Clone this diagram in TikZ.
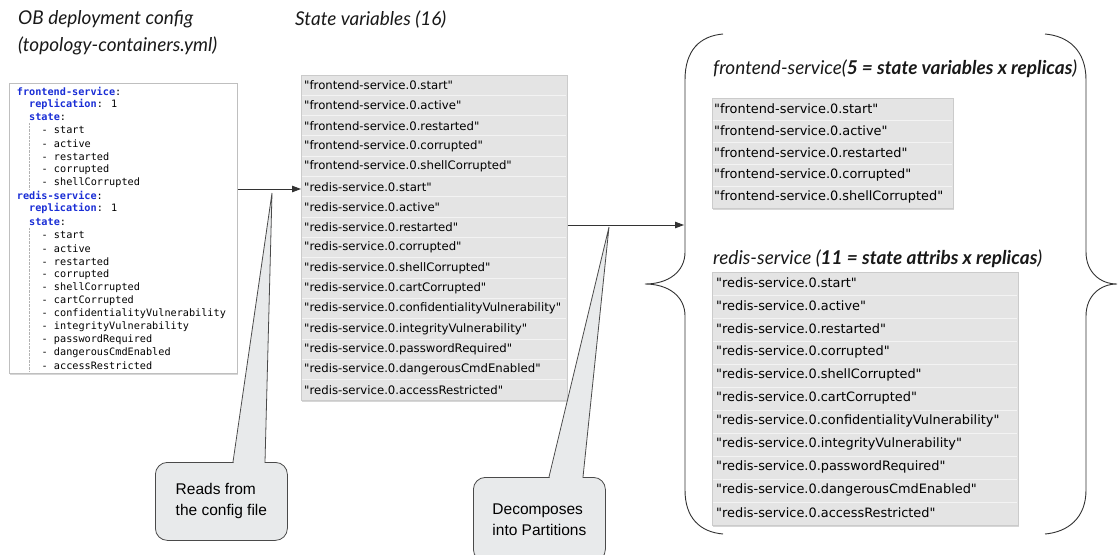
\documentclass[tikz,border=0pt]{standalone}
\usepackage{fontspec}
\setmainfont{Lato}
\newfontfamily\boxfont{DejaVu Sans}
\newfontfamily\yamlfont{DejaVu Sans Mono}
\newfontfamily\callfont{Liberation Sans}
\usetikzlibrary{shadows,arrows.meta}
\definecolor{keyblue}{HTML}{1A2ED6}
\definecolor{panelgray}{HTML}{E4E4E4}
\definecolor{panelline}{HTML}{F3F3F3}
\definecolor{panelborder}{HTML}{CBCBCB}
\definecolor{callfill}{HTML}{E8EAEB}
\definecolor{callline}{HTML}{4A4A4A}
\definecolor{inkdark}{HTML}{333333}
\newcommand\ykey[1]{\textcolor{keyblue}{\bfseries #1}}
\newcommand\svfont{\boxfont\fontsize{11.7}{14}\selectfont}
\newcommand\partfont{\boxfont\fontsize{12.9}{15}\selectfont}
\tikzset{
  titletext/.style={anchor=west,inner sep=0pt,font=\fontsize{19}{22}\selectfont\itshape,text=black!90},
  yamlline/.style={anchor=west,inner sep=0pt,font=\yamlfont\fontsize{10.2}{12}\selectfont},
  rowtext/.style={anchor=west,inner sep=0pt,text=black},
  panel/.style={draw=panelborder,fill=panelgray,line width=0.5pt,anchor=north west,inner sep=0pt,
    drop shadow={shadow xshift=0.6pt,shadow yshift=-1.8pt,opacity=0.32}},
  sepline/.style={draw=panelline,line width=0.9pt},
  conn/.style={draw=inkdark,line width=0.9pt,-{Triangle[length=9pt,width=6.5pt]}},
  bracestyle/.style={draw=inkdark,line width=0.9pt},
  callbox/.style={draw=callline,fill=callfill,line width=0.8pt,rounded corners=12pt,anchor=north west,
    inner sep=0pt,align=left,font=\callfont\fontsize{15.5}{21}\selectfont},
  guide/.style={draw=black!30,line width=0.4pt,densely dotted}
}
\begin{document}
\begin{tikzpicture}[x=1pt,y=-1pt]
\useasboundingbox[fill=white] (0,0) rectangle (1118,554);

% titles
\node[titletext] (t1) at (18,19.5) {OB deployment config};
\node[titletext] (t2) at (18,46) {(topology-containers.yml)};
\node[titletext] (t3) at (295,19.5) {State variables (16)};
\node[titletext] (t4) at (713,68.5) {frontend-service(\textbf{5 = state variables x replicas})};
\node[titletext] (t5) at (713,259) {redis-service (\textbf{11 = state attribs x replicas})};

% yaml config box
\node[draw=black!25,fill=white,line width=0.5pt,anchor=north west,minimum width=228,minimum height=290,inner sep=0pt,
  drop shadow={shadow xshift=0.6pt,shadow yshift=-1.8pt,opacity=0.32}] (yaml) at (9,83) {};
\draw[guide] (29,123) -- (29,190);
\draw[guide] (29,228) -- (29,371);
\node[yamlline] (y0) at (16.7,91) {\ykey{frontend-service}:};
\node[yamlline] (y1) at (29,104.1) {\ykey{replication}: 1};
\node[yamlline] (y2) at (29,117.2) {\ykey{state}:};
\foreach \t [count=\i from 3] in {start,active,restarted,corrupted,shellCorrupted}
  \node[yamlline] (y\i) at (41.5,{91+13.1*\i}) {- \t};
\node[yamlline] (y8) at (16.7,{91+13.1*8}) {\ykey{redis-service}:};
\node[yamlline] (y9) at (29,{91+13.1*9}) {\ykey{replication}: 1};
\node[yamlline] (y10) at (29,{91+13.1*10}) {\ykey{state}:};
\foreach \t [count=\i from 11] in {start,active,restarted,corrupted,shellCorrupted,cartCorrupted,confidentialityVulnerability,integrityVulnerability,passwordRequired,dangerousCmdEnabled,accessRestricted}
  \node[yamlline] (y\i) at (41.5,{91+13.1*\i}) {- \t};

% state variables box
\node[panel,minimum width=266,minimum height=325] (state) at (301,75) {};
\foreach \k in {1,...,15}
  \draw[sepline] (302,{75+20.3125*\k}) -- (566,{75+20.3125*\k});
\foreach \t [count=\i from 0] in {frontend-service.0.start,frontend-service.0.active,frontend-service.0.restarted,frontend-service.0.corrupted,frontend-service.0.shellCorrupted,redis-service.0.start,redis-service.0.active,redis-service.0.restarted,redis-service.0.corrupted,redis-service.0.shellCorrupted,redis-service.0.cartCorrupted,redis-service.0.confidentialityVulnerability,redis-service.0.integrityVulnerability,redis-service.0.passwordRequired,redis-service.0.dangerousCmdEnabled,redis-service.0.accessRestricted}
  \node[rowtext,font=\svfont] (sv\i) at (304,{75+20.3125*\i+10.16}) {"\t"};

% frontend partition box
\node[panel,minimum width=241,minimum height=110] (front) at (712,98) {};
\foreach \k in {1,...,4}
  \draw[sepline] (713,{98+22*\k}) -- (952,{98+22*\k});
\foreach \t [count=\i from 0] in {start,active,restarted,corrupted,shellCorrupted}
  \node[rowtext,font=\partfont] (fp\i) at (714,{98+22*\i+10.5}) {"frontend-service.0.\t"};

% redis partition box
\node[panel,minimum width=306,minimum height=253] (redis) at (712,272) {};
\foreach \k in {1,...,10}
  \draw[sepline] (713,{272+23*\k}) -- (1017,{272+23*\k});
\foreach \t [count=\i from 0] in {start,active,restarted,corrupted,shellCorrupted,cartCorrupted,confidentialityVulnerability,integrityVulnerability,passwordRequired,dangerousCmdEnabled,accessRestricted}
  \node[rowtext,font=\partfont] (rp\i) at (716,{272+23*\i+11}) {"redis-service.0.\t"};

% braces
\draw[bracestyle] (723,34) .. controls (700,36) and (685,50) .. (685,80) -- (685,252)
  .. controls (685,272) and (668,284) .. (645,284) .. controls (668,284) and (685,296) .. (685,316)
  -- (685,490) .. controls (685,518) and (700,532) .. (723,534);
\draw[bracestyle] (1045,34) .. controls (1068,36) and (1086,50) .. (1086,80) -- (1086,252)
  .. controls (1086,272) and (1100,284) .. (1117,284) .. controls (1100,284) and (1086,296) .. (1086,316)
  -- (1086,490) .. controls (1086,518) and (1068,532) .. (1045,534);

% connectors
\coordinate (a1) at (0,189);
\coordinate (brin) at (684,225);
\draw[conn] (yaml.east |- a1) -- (state.west |- a1);
\draw[conn] (state.east |- brin) -- (brin);

% callouts
\node[callbox,minimum width=132,minimum height=78] (c1) at (155,462) {Reads from\\the config file};
\coordinate (p1) at (272,193);
\fill[callfill] (233.5,463.5) -- (p1) -- (264.5,463.5) -- cycle;
\draw[callline,line width=0.8pt,line join=miter] (233,462) -- (p1) -- (265,462);

\node[callbox,minimum width=132,minimum height=84] (c2) at (473,477) {Decomposes\\into Partitions};
\coordinate (p2) at (609,227);
\fill[callfill] (549.5,478.5) -- (p2) -- (582.5,478.5) -- cycle;
\draw[callline,line width=0.8pt] (549,477) -- (p2) -- (583,477);
\end{tikzpicture}
\end{document}
